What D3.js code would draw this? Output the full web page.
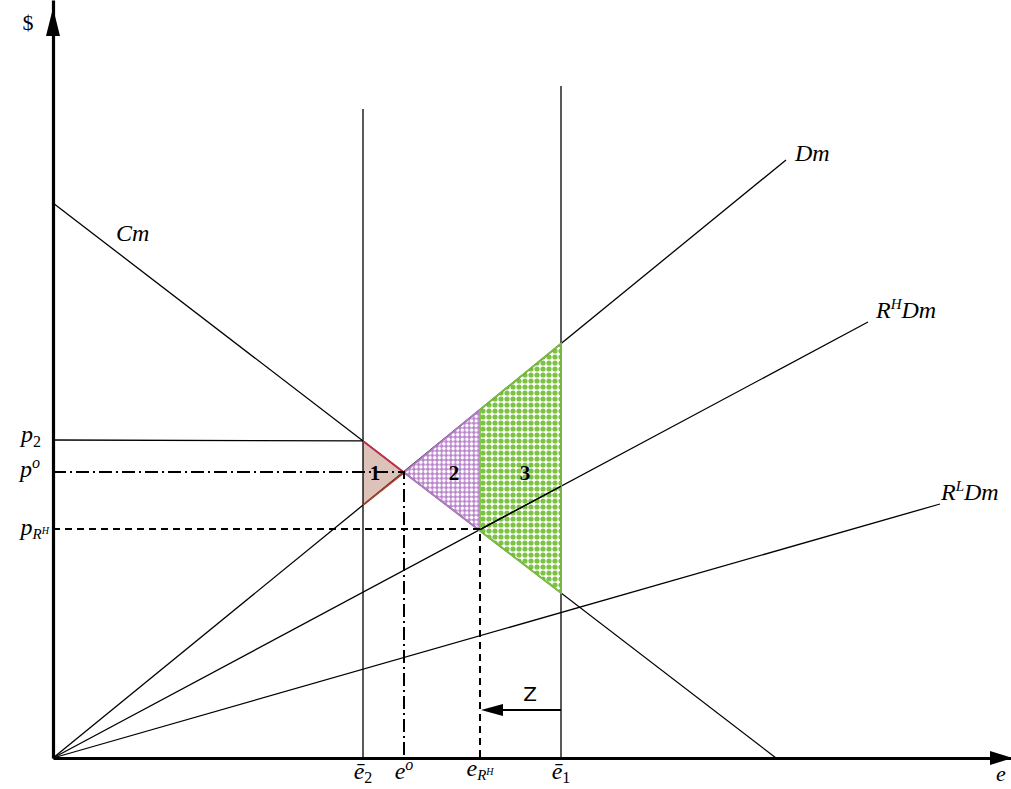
<!DOCTYPE html>
<html>
<head>
<meta charset="utf-8">
<script src="https://cdn.jsdelivr.net/npm/d3@7"></script>
<style>
  body { margin: 0; background: #fff; }
  text { font-family: "Liberation Serif", "DejaVu Serif", serif; }
</style>
</head>
<body>
<svg id="chart" width="1011" height="789"></svg>
<script>
// values (chart units: e along x, $ along y)
var curveNames = ["Cm", "Dm", "RHDm", "RLDm"];
var curveFrom = [[0, 555], [0, 0], [0, 0], [0, 0]];
var curveTo = [[723, 0], [733, 598], [815, 436], [887, 254]];
var eTicks = [310, 351, 427, 508];      // ē2, e^o, e_RH, ē1
var pTicks = [318, 286, 229];           // p2, p^o, p_RH
var capTops = [649, 672];               // top of the ē2 and ē1 verticals
var zArrow = [508, 427, 48];            // from e, to e, at $

var svg = d3.select("#chart"),
    x = d3.scaleLinear().domain([0, 960]).range([53, 1013]),
    y = d3.scaleLinear().domain([0, 758]).range([758, 0]);

// line value of a curve at e
function at(i, e) {
  var a = curveFrom[i], b = curveTo[i];
  return a[1] + (b[1] - a[1]) * (e - a[0]) / (b[0] - a[0]);
}

var defs = svg.append("defs");

var pp = defs.append("pattern").attr("id", "purp")
    .attr("patternUnits", "userSpaceOnUse").attr("width", 4.6).attr("height", 4.6);
pp.append("rect").attr("width", 4.6).attr("height", 4.6).attr("fill", "#b983cc");
pp.append("circle").attr("cx", 2.3).attr("cy", 2.3).attr("r", 1.75).attr("fill", "#fff");

var gp = defs.append("pattern").attr("id", "green")
    .attr("patternUnits", "userSpaceOnUse").attr("width", 6).attr("height", 6);
gp.append("rect").attr("width", 6).attr("height", 6).attr("fill", "#fff");
gp.append("circle").attr("cx", 3).attr("cy", 3).attr("r", 2.6).attr("fill", "#7dc242");

var line = d3.line().x(d => x(d[0])).y(d => y(d[1]));

var e2 = eTicks[0], eo = eTicks[1], eR = eTicks[2], e1 = eTicks[3];

// shaded areas
var areas = [
  {pts: [[e2, at(0, e2)], [eo, at(0, eo)], [e2, at(1, e2)]], fill: "#dcc2b8"},
  {pts: [[eo, at(0, eo)], [eR, at(1, eR)], [eR, at(0, eR)]], fill: "url(#purp)"},
  {pts: [[eR, at(1, eR)], [e1, at(1, e1)], [e1, at(0, e1)], [eR, at(0, eR)]], fill: "url(#green)"}
];
svg.append("g").selectAll("path").data(areas).enter().append("path")
    .attr("d", d => line(d.pts) + "Z")
    .attr("fill", d => d.fill);

// curves
svg.append("g").selectAll("path").data(curveNames).enter().append("path")
    .attr("d", (d, i) => line([curveFrom[i], curveTo[i]]))
    .attr("fill", "none").attr("stroke", "#000").attr("stroke-width", 1.3);

// verticals at ē2 and ē1
svg.append("g").selectAll("line").data([e2, e1]).enter().append("line")
    .attr("x1", d => x(d)).attr("x2", d => x(d))
    .attr("y1", y(0)).attr("y2", (d, i) => y(capTops[i]))
    .attr("stroke", "#000").attr("stroke-width", 1.3);

// area outlines
var edges = [
  {pts: [[e2, at(0, e2)], [eo, at(0, eo)]], c: "#c2304e"},
  {pts: [[eo, at(0, eo)], [e2, at(1, e2)]], c: "#a8402a"},
  {pts: [[eo, at(0, eo)], [eR, at(1, eR)]], c: "#b27cc6"},
  {pts: [[eo, at(0, eo)], [eR, at(0, eR)]], c: "#b27cc6"},
  {pts: [[eR, at(1, eR)], [e1, at(1, e1)], [e1, at(0, e1)], [eR, at(0, eR)], [eR, at(1, eR)]], c: "#7cc242"}
];
svg.append("g").selectAll("path").data(edges).enter().append("path")
    .attr("d", d => line(d.pts))
    .attr("fill", "none").attr("stroke", d => d.c).attr("stroke-width", 1.8);

// R^H Dm again on top of the green area
svg.append("path").attr("d", line([[eR, at(2, eR)], [e1, at(2, e1)]]))
    .attr("stroke", "#000").attr("stroke-width", 1.3);

// p2 guide, p^o dash-dot, p_RH dashed
svg.append("line").attr("x1", x(0)).attr("x2", x(e2))
    .attr("y1", y(pTicks[0])).attr("y2", y(at(0, e2)))
    .attr("stroke", "#000").attr("stroke-width", 1.3);
var guides = [
  {e: eo, p: pTicks[1], dash: "13,4,2,4"},
  {e: eR, p: pTicks[2], dash: "7,5"}
];
guides.forEach(function(g) {
  svg.append("path")
      .attr("d", line([[0, g.p], [g.e, g.p], [g.e, 0]]))
      .attr("fill", "none").attr("stroke", "#000").attr("stroke-width", 2)
      .attr("stroke-dasharray", g.dash);
});

// axes
svg.append("g").attr("transform", "translate(0," + y(0) + ")")
    .call(d3.axisBottom(x).tickValues([]).tickSizeOuter(0))
    .select(".domain").attr("stroke-width", 3.2);
svg.append("g").attr("transform", "translate(" + x(0) + ",0)")
    .call(d3.axisLeft(y).tickValues([]).tickSizeOuter(0))
    .select(".domain").attr("stroke-width", 3.2);
svg.append("path").attr("d", "M990,751L1013,758L990,765Z");
svg.append("path").attr("d", "M46,36L53,8L60,36Z");

// Z arrow
svg.append("line").attr("x1", x(zArrow[0])).attr("x2", x(zArrow[1]) + 20)
    .attr("y1", y(zArrow[2])).attr("y2", y(zArrow[2]))
    .attr("stroke", "#000").attr("stroke-width", 2.2);
svg.append("path").attr("d", "M" + (x(zArrow[1]) + 1) + "," + y(zArrow[2]) +
    "l22,-6l0,12Z");
svg.append("text").attr("x", 530).attr("y", 701).attr("text-anchor", "middle")
    .style("font-family", "'DejaVu Sans', sans-serif").attr("font-size", 20).text("Z");

// math labels: parts = [text, shift, size, italic]
function math(px, py, anchor, size, parts) {
  var t = svg.append("text").attr("x", px).attr("y", py)
      .attr("text-anchor", anchor).attr("font-size", size);
  var base = 0;
  parts.forEach(function(p) {
    var s = t.append("tspan").text(p[0]).attr("dy", p[1] - base)
        .attr("font-size", p[2] || size);
    if (p[3] !== false) s.attr("font-style", "italic");
    base = p[1];
  });
  return t;
}

math(28, 30, "middle", 22, [["$", 0, 22, false]]);
math(1001, 781, "middle", 22, [["e", 0]]);
math(116, 241, "start", 24, [["Cm", 0]]);
math(795, 161, "start", 24, [["Dm", 0]]);
math(876, 318, "start", 24, [["R", 0], ["H", -9, 15], ["Dm", 0]]);
math(941, 500, "start", 24, [["R", 0], ["L", -9, 15], ["Dm", 0]]);

math(41, 442, "end", 24, [["p", 0], ["2", 5, 16, false]]);
math(40, 477, "end", 24, [["p", 0], ["o", -9, 16]]);
math(49, 535, "end", 24, [["p", 0], ["R", 4, 15], ["H", -1, 10]]);

math(x(e2), 779, "middle", 24, [["ē", 0], ["2", 4, 16, false]]);
math(x(eo), 779, "middle", 24, [["e", 0], ["o", -9, 16]]);
math(x(eR), 776, "middle", 24, [["e", 0], ["R", 4, 15], ["H", -1, 10]]);
math(x(e1), 779, "middle", 24, [["ē", 0], ["1", 4, 16, false]]);

// area numbers
var nums = [["1", 375], ["2", 454], ["3", 525]];
svg.append("g").selectAll("text").data(nums).enter().append("text")
    .attr("x", d => d[1]).attr("y", 480)
    .attr("text-anchor", "middle").attr("font-size", 21).attr("font-weight", "bold")
    .text(d => d[0]);
</script>
</body>
</html>
